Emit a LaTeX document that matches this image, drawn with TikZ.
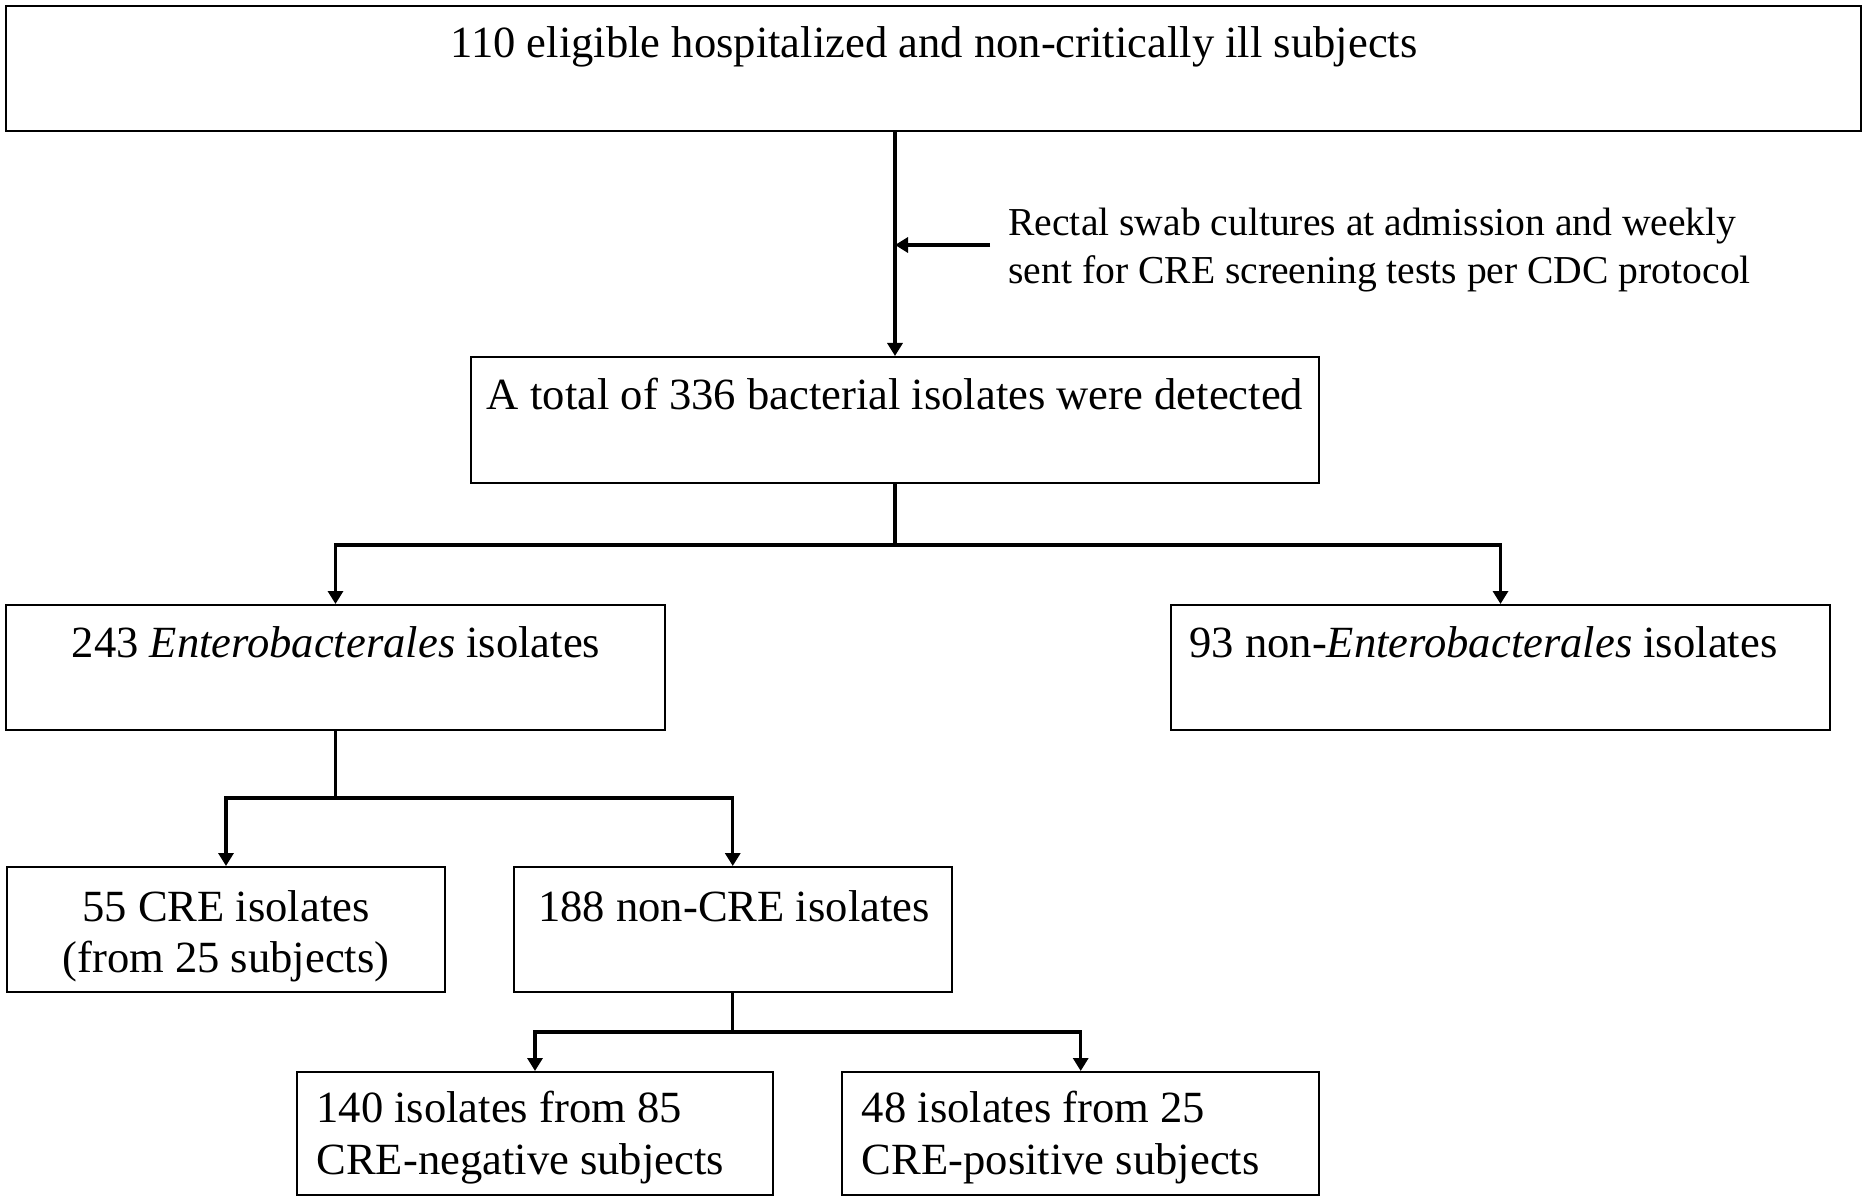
\documentclass[tikz,border=0pt]{standalone}
\usepackage{fontspec}
\setmainfont{Liberation Serif}
\usetikzlibrary{arrows.meta}
\begin{document}
\begin{tikzpicture}[x=0.5pt,y=-0.5pt,
  box/.style={draw=black,line width=1pt,rectangle,inner sep=0pt},
  txt/.style={inner sep=0pt,font=\fontsize{22.3pt}{26pt}\selectfont},
  sidetxt/.style={inner sep=0pt,font=\fontsize{19.8pt}{24pt}\selectfont},
  conn/.style={line width=1.6pt,-{Triangle[width=7.5pt,length=6.5pt]}},
  plain/.style={line width=1.6pt}]
\useasboundingbox (0,0) rectangle (1867,1203);
% boxes
\node[box,minimum width=927.5pt,minimum height=62.5pt] (b1) at (933.5,68.5) {};
\node[box,minimum width=424pt,minimum height=63pt] (b2) at (895,420) {};
\node[box,minimum width=329.5pt,minimum height=62.5pt] (b3l) at (335.5,667.5) {};
\node[box,minimum width=329.5pt,minimum height=62.5pt] (b3r) at (1500.5,667.5) {};
\node[box,minimum width=219pt,minimum height=62.5pt] (b4l) at (226,929.5) {};
\node[box,minimum width=219.25pt,minimum height=62.5pt] (b4r) at (732.75,929.5) {};
\node[box,minimum width=238pt,minimum height=61.5pt] (b5l) at (535,1133.5) {};
\node[box,minimum width=238.3pt,minimum height=61.5pt] (b5r) at (1080.7,1133.5) {};
% texts
\node[txt,anchor=base] (t1) at (934,58) {110 eligible hospitalized and non-critically ill subjects};
\node[sidetxt,anchor=base west] (s1) at (1008,236) {Rectal swab cultures at admission and weekly};
\node[sidetxt,anchor=base west] (s2) at (1008,284) {sent for CRE screening tests per CDC protocol};
\node[txt,anchor=base] (t2) at (895,409) {A total of 336 bacterial isolates were detected};
\node[txt,anchor=base] (t3l) at (336,657) {243 \textit{Enterobacterales} isolates};
\node[txt,anchor=base west] (t3r) at (1189,657) {93 non-\textit{Enterobacterales} isolates};
\node[txt,anchor=base] (t4la) at (226,921) {55 CRE isolates};
\node[txt,anchor=base] (t4lb) at (226,972) {(from 25 subjects)};
\node[txt,anchor=base] (t4r) at (734,921) {188 non-CRE isolates};
\node[txt,anchor=base west] (t5la) at (316,1122) {140 isolates from 85};
\node[txt,anchor=base west] (t5lb) at (316,1174) {CRE-negative subjects};
\node[txt,anchor=base west] (t5ra) at (861.5,1122) {48 isolates from 25};
\node[txt,anchor=base west] (t5rb) at (861.5,1174) {CRE-positive subjects};
% connectors
\coordinate (sa) at (990,245);
\coordinate (h1) at (0,545);
\coordinate (h2) at (0,798);
\coordinate (h3) at (0,1032);
\coordinate (j1) at (b2.south |- h1);
\coordinate (j2) at (b3l.south |- h2);
\coordinate (j3) at (b4r.south |- h3);
\draw[conn] (b2.north |- b1.south) -- (b2.north);
\draw[conn] (sa) -- (sa -| b2.north);
\draw[plain] (b2.south) -- (j1);
\draw[conn] (j1) -| (b3l.north);
\draw[conn] (j1) -| (b3r.north);
\draw[plain] (b3l.south) -- (j2);
\draw[conn] (j2) -| (b4l.north);
\draw[conn] (j2) -| (b4r.north);
\draw[plain] (b4r.south) -- (j3);
\draw[conn] (j3) -| (b5l.north);
\draw[conn] (j3) -| (b5r.north);
\end{tikzpicture}
\end{document}
